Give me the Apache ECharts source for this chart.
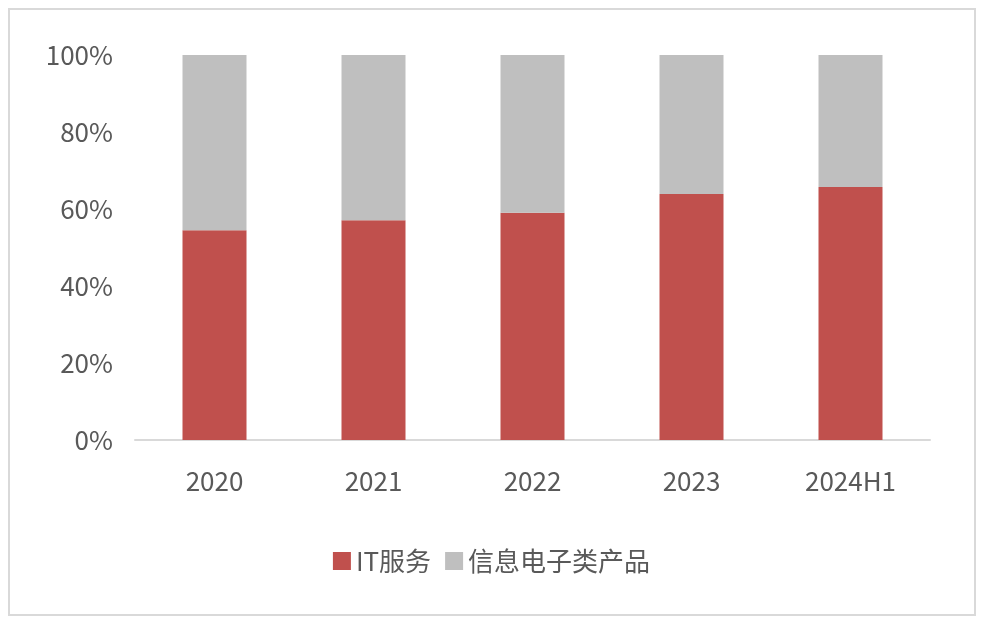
<!DOCTYPE html>
<html><head><meta charset="utf-8">
<script src="https://cdn.jsdelivr.net/npm/echarts@6/dist/echarts.min.js"></script>
<style>html,body{margin:0;padding:0;background:#fff}
#frame{position:absolute;left:8px;top:8px;width:968px;height:608px;border:2px solid #d9d9d9;box-sizing:border-box}
#c{width:983px;height:626px}</style></head>
<body><div id="frame"></div><div id="c"></div>
<script>
const categories = ['2020','2021','2022','2023','2024H1'];
const itService = [54.5, 57.1, 59.0, 63.9, 65.7];
const electronics = [45.5, 42.9, 41.0, 36.1, 34.3];
const chart = echarts.init(document.getElementById('c'));
const font = "'Noto Sans CJK SC', 'Noto Sans', sans-serif";
chart.setOption({
  animation:false,
  grid:{left:135,right:53,top:55,bottom:186},
  legend:{bottom:47,left:'center',itemWidth:18,itemHeight:18,itemGap:14,
    textStyle:{fontSize:26,color:'#595959',fontFamily:font},
    data:[{name:'IT服务',icon:'rect'},{name:'信息电子类产品',icon:'rect'}]},
  xAxis:{type:'category',data:categories,
    axisLine:{lineStyle:{color:'#d9d9d9',width:2}},axisTick:{show:false},
    axisLabel:{fontSize:26,color:'#595959',margin:28,fontFamily:font}},
  yAxis:{type:'value',min:0,max:100,interval:20,
    axisLabel:{formatter:'{value}%',fontSize:26,color:'#595959',margin:22,fontFamily:font},
    splitLine:{show:false},axisLine:{show:false}},
  series:[
    {name:'IT服务',type:'bar',stack:'a',data:itService,barWidth:64,itemStyle:{color:'#c0504d'}},
    {name:'信息电子类产品',type:'bar',stack:'a',data:electronics,barWidth:64,itemStyle:{color:'#bfbfbf'}}
  ]
});
</script></body></html>
